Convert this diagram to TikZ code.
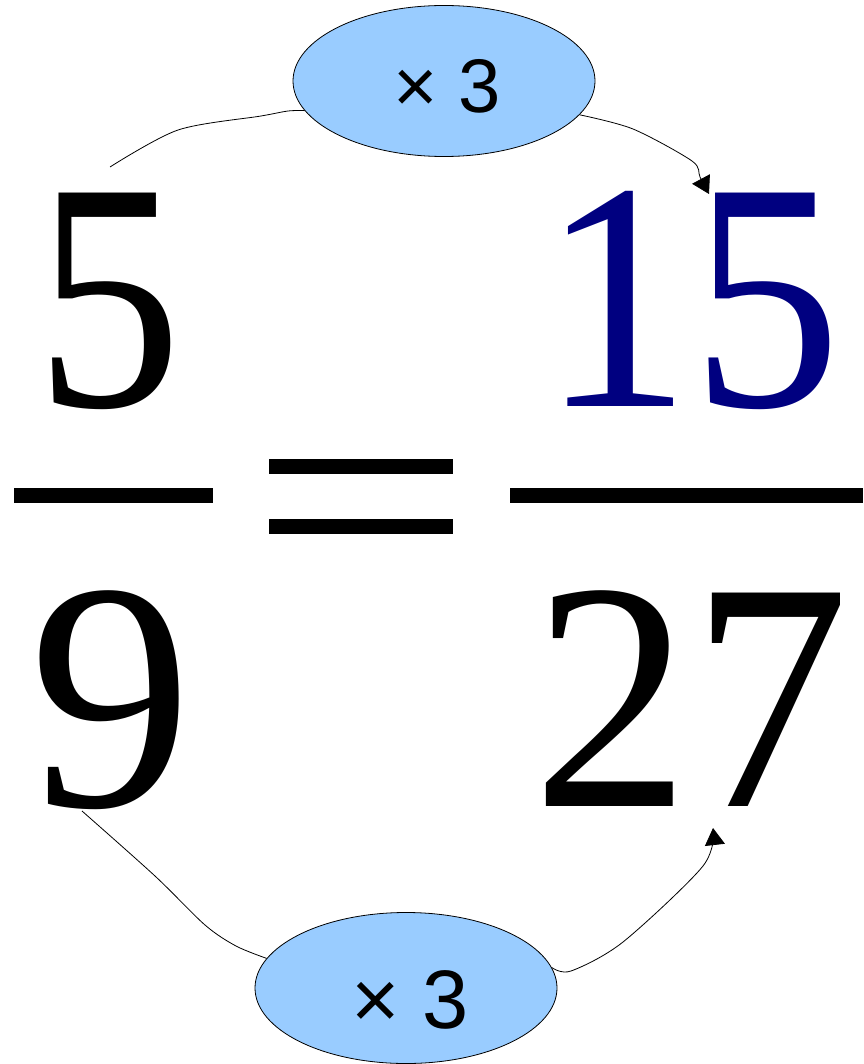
\documentclass[tikz,border=0pt]{standalone}
\usepackage{fontspec}
\setmainfont{Liberation Serif}
\newfontfamily\opfont{Liberation Sans}
\usetikzlibrary{shapes.geometric, arrows.meta}
\definecolor{numblue}{RGB}{0,0,128}
\definecolor{opblue}{RGB}{153,204,255}

\begin{document}
\begin{tikzpicture}[x=1pt, y=-1pt,
    opellipse/.style={ellipse, draw=black, fill=opblue, line width=0.8pt,
      minimum width=302pt, minimum height=151pt, inner sep=0pt},
    optext/.style={anchor=base, inner sep=0pt},
    digits/.style={font=\fontsize{326}{326}\selectfont, anchor=base, inner sep=0pt},
    wiggle/.style={line width=0.8pt},
    optip/.style={-{Triangle[length=17pt, width=20pt]}}]
  \useasboundingbox (0,0) rectangle (863,1064);
  \fill (14,488) rectangle (213,503);
  \fill (269,459) rectangle (453,474);
  \fill (269,519) rectangle (453,534);
  \fill (510,488) rectangle (863,503);
  \node[digits] (five) at (109,406) {\scalebox{0.9}[1]{5}};
  \node[digits, numblue] (fifteen) at (691,406) {\scalebox{0.92}[1]{15}};
  \node[digits] (nine) at (111,806) {9};
  \node[digits] (twentyseven) at (691,806) {\scalebox{0.97}[1]{27}};
  \node[opellipse] (topop) at (444,81) {};
  \node[optext, font=\opfont\fontsize{76}{76}\selectfont] (toplabel) at (447,113) {× 3};
  \node[opellipse] (botop) at (406,988) {};
  \node[optext, font=\opfont\fontsize{83}{83}\selectfont] (botlabel) at (410,1028) {× 3};
  \coordinate (fivestart) at (110,167);
  \coordinate (fifteenin) at (709,194);
  \coordinate (ninestart) at (82,811);
  \coordinate (twentysevenin) at (713,828);
  \draw[wiggle] plot[smooth] coordinates {(fivestart) (178,130) (261,116) (288,111) (topop.192)};
  \draw[wiggle, optip] plot[smooth] coordinates {(topop.346) (633,129) (692,161) (700,177) (fifteenin)};
  \draw[wiggle] plot[smooth] coordinates {(ninestart) (155,876) (205,925) (236,946) (botop.168)};
  \draw[wiggle, optip] plot[smooth] coordinates {(botop.8) (571,971) (623,942) (703,866) (twentysevenin)};
\end{tikzpicture}
\end{document}
